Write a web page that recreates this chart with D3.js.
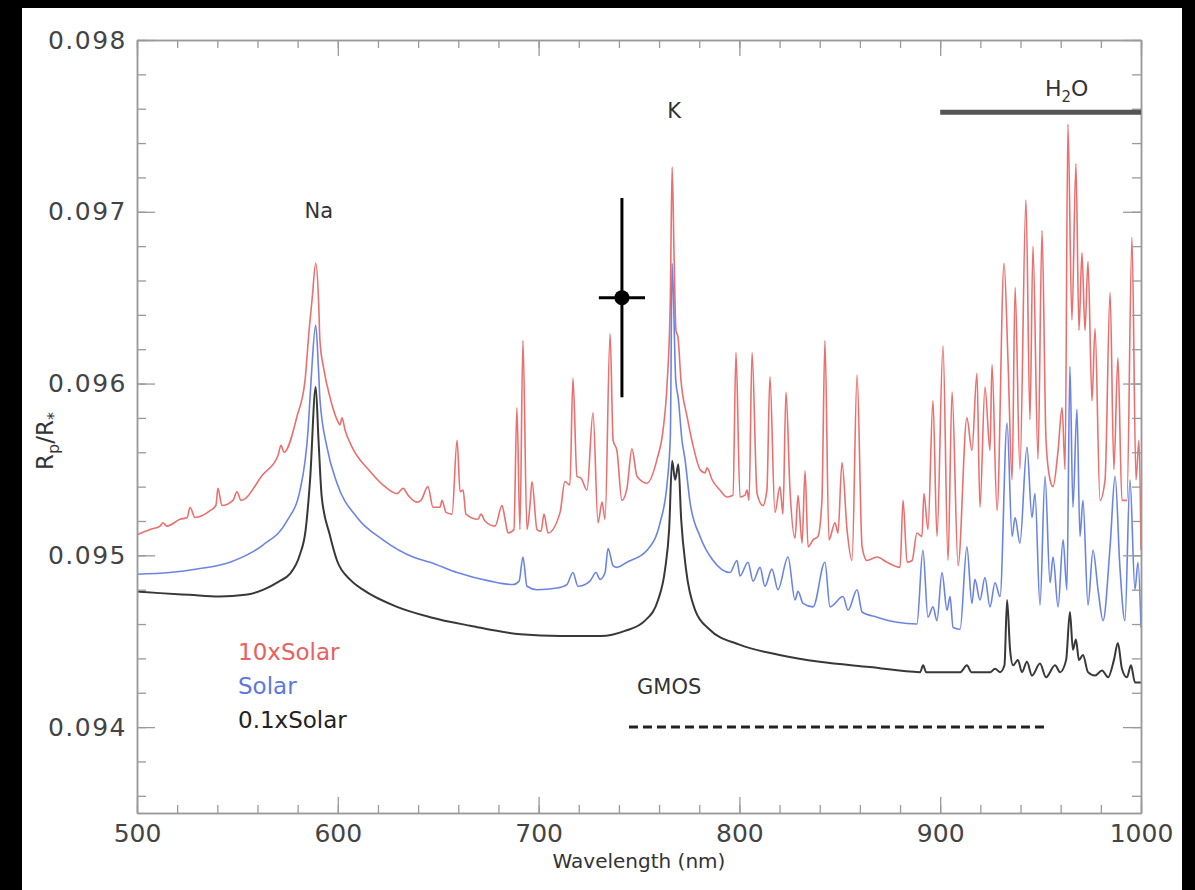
<!DOCTYPE html>
<html>
<head>
<meta charset="utf-8">
<script src="https://cdn.jsdelivr.net/npm/d3@7"></script>
<style>
  html, body { margin: 0; padding: 0; background: #000; }
  svg { display: block; }
  text { font-family: "DejaVu Sans", "Noto Sans", sans-serif; }
</style>
</head>
<body>
<svg id="chart" width="1195" height="890"></svg>
<script>
// Transmission spectra (wavelength in nm, Rp/R*) for three metallicities
const tenxSolar = [
  [500,0.09512],[506.5,0.09515],[511.5,0.09517],[512.9,0.09519],[514.9,0.09517],[521.4,0.09521],
  [525,0.09522],[526.4,0.09528],[528.9,0.09522],[536.4,0.09526],[539.3,0.09529],[540.3,0.09539],
  [542.3,0.09529],[547.8,0.09532],[549.8,0.09537],[551.8,0.09532],[562.7,0.09547],[570.2,0.09558],
  [571.7,0.09564],[573.2,0.09560],[579.7,0.09581],[583.7,0.09602],[585.7,0.09631],[587.2,0.09649],
  [589,0.09670],[590.4,0.09649],[591.1,0.09625],[593.1,0.09608],[596.1,0.09592],[599.6,0.09579],
  [601.1,0.09576],[602.1,0.09580],[603.6,0.09573],[607.1,0.09563],[616,0.09549],[623.5,0.09540],
  [629.5,0.09536],[632.5,0.09539],[635,0.09535],[639.4,0.09531],[641.4,0.09532],[644.9,0.09540],
  [647.4,0.09528],[650.9,0.09528],[651.9,0.09532],[653.9,0.09525],[656.9,0.09524],[659.4,0.09567],
  [660.9,0.09537],[662.4,0.09538],[663.8,0.09524],[669.8,0.09521],[671.3,0.09524],[673.3,0.09520],
  [678.3,0.09517],[681.8,0.09529],[683.3,0.09521],[684.8,0.09513],[687.7,0.09515],[689.2,0.09586],
  [690.7,0.09515],[692.2,0.09625],[694.2,0.09515],[695.7,0.09529],[696.7,0.09543],[699.2,0.09515],
  [701.2,0.09514],[702.7,0.09524],[704.7,0.09513],[710.7,0.09525],[713.1,0.09543],[715.6,0.09541],
  [717.1,0.09603],[719.1,0.09546],[721.1,0.09545],[724.1,0.09538],[727.1,0.09583],[729.6,0.09519],
  [731.6,0.09531],[733.1,0.09521],[735.6,0.09629],[737.1,0.09567],[739,0.09561],[741.5,0.09532],
  [744,0.09539],[746.5,0.09562],[749,0.09546],[754,0.09542],[759,0.09556],[762,0.09573],
  [764,0.09600],[765.6,0.09649],[766.5,0.09726],[767.5,0.09672],[768.4,0.09631],[769.4,0.09627],
  [770.9,0.09602],[773.9,0.09581],[776.9,0.09564],[780.4,0.09550],[782.9,0.09548],[783.9,0.09551],
  [786.4,0.09544],[790.3,0.09538],[793.8,0.09534],[796.8,0.09535],[798.3,0.09618],[800.3,0.09534],
  [802.8,0.09535],[803.8,0.09538],[804.8,0.09532],[806.3,0.09618],[808.8,0.09536],[811.7,0.09529],
  [813.7,0.09538],[815.2,0.09604],[817.7,0.09525],[820.2,0.09540],[821.7,0.09524],[823.2,0.09595],
  [825.2,0.09538],[827.7,0.09510],[829.2,0.09535],[831.2,0.09507],[832.7,0.09549],[834.2,0.09505],
  [836.7,0.09509],[839.1,0.09511],[841.1,0.09532],[842.6,0.09625],[844.6,0.09509],[847.6,0.09519],
  [849.1,0.09513],[851.1,0.09554],[853.6,0.09515],[856.1,0.09497],[858.6,0.09605],[861.1,0.09505],
  [863.5,0.09497],[868.5,0.09499],[873.5,0.09496],[880,0.09493],[881.5,0.09532],[883.5,0.09496],
  [886,0.09497],[888.4,0.09513],[890.9,0.09511],[891.9,0.09536],[893.9,0.09515],[896.4,0.09590],
  [898.4,0.09511],[901.4,0.09622],[903.9,0.09497],[905.9,0.09595],[908.9,0.09494],[913.3,0.09580],
  [915.8,0.09561],[918.3,0.09606],[919.8,0.09528],[922.3,0.09598],[924.8,0.09561],[925.8,0.09611],
  [928.3,0.09526],[931.8,0.09670],[933.8,0.09612],[935.8,0.09544],[937.3,0.09656],[939.7,0.09550],
  [942.7,0.09707],[944.7,0.09579],[946.2,0.09680],[948.7,0.09556],[950.7,0.09689],[952.7,0.09567],
  [954.7,0.09544],[956.2,0.09540],[958.7,0.09561],[960.7,0.09586],[962.2,0.09550],[963.6,0.09751],
  [965.6,0.09637],[967.6,0.09728],[969.1,0.09631],[970.6,0.09676],[972.1,0.09631],[973.6,0.09671],
  [975.6,0.09590],[977.1,0.09632],[979.6,0.09532],[982.1,0.09544],[984.6,0.09653],[986.5,0.09550],
  [988.5,0.09615],[990.5,0.09532],[993,0.09532],[995.5,0.09685],[997.5,0.09544],[999,0.09567],
  [1000,0.09503]
];

const solar = [
  [500,0.09489],[516.4,0.09490],[529.9,0.09492],[546.3,0.09496],[562.7,0.09506],[574.7,0.09520],
  [581.2,0.09538],[585.2,0.09573],[586.7,0.09602],[589,0.09634],[590.4,0.09608],[591.1,0.09591],
  [594.6,0.09563],[599.6,0.09542],[609.6,0.09522],[622.5,0.09509],[637.5,0.09499],[645.9,0.09496],
  [659.4,0.09490],[675.8,0.09485],[687.3,0.09483],[690.3,0.09485],[692.2,0.09499],[694.2,0.09482],
  [699.2,0.09480],[709.2,0.09481],[714.1,0.09483],[717.1,0.09490],[719.6,0.09482],[725.6,0.09485],
  [728.6,0.09490],[730.6,0.09486],[733.1,0.09490],[734.6,0.09504],[737.1,0.09494],[739,0.09493],
  [744,0.09496],[754,0.09503],[760.5,0.09519],[764,0.09542],[765.6,0.09569],[766.5,0.09670],
  [768.3,0.09602],[769.6,0.09591],[771.4,0.09567],[772.9,0.09556],[775.4,0.09531],[780.4,0.09511],
  [786.9,0.09497],[795.3,0.09490],[798.8,0.09497],[800.3,0.09488],[804.3,0.09496],[806.8,0.09485],
  [810.3,0.09493],[812.7,0.09482],[816.2,0.09492],[819.2,0.09480],[824.2,0.09499],[827.7,0.09474],
  [829.2,0.09479],[831.7,0.09472],[836.7,0.09470],[842.6,0.09496],[845.1,0.09470],[851.6,0.09476],
  [854.1,0.09468],[858.6,0.09480],[861.1,0.09467],[868.5,0.09464],[878.5,0.09461],[888.4,0.09460],
  [891.4,0.09503],[893.9,0.09464],[896.4,0.09470],[898.4,0.09462],[900.9,0.09490],[903.4,0.09468],
  [904.9,0.09476],[906.4,0.09458],[909.9,0.09457],[913.3,0.09505],[915.8,0.09472],[917.3,0.09486],
  [919.8,0.09474],[922.3,0.09487],[924.8,0.09470],[927.3,0.09484],[929.8,0.09476],[933.3,0.09577],
  [935.8,0.09511],[937.3,0.09522],[939.7,0.09507],[943.2,0.09563],[945.7,0.09522],[947.2,0.09536],
  [949.7,0.09471],[952.2,0.09546],[954.7,0.09484],[956.2,0.09499],[958.7,0.09470],[961.2,0.09509],
  [963.1,0.09480],[964.6,0.09610],[966.1,0.09528],[968.1,0.09585],[969.6,0.09511],[971.1,0.09532],
  [973.6,0.09471],[976.1,0.09503],[978.6,0.09480],[981.1,0.09462],[984.6,0.09505],[987.1,0.09546],
  [989.5,0.09493],[992,0.09462],[994.5,0.09544],[997,0.09480],[998.5,0.09496],[1000,0.09458]
];

const tenthSolar = [
  [500,0.09479],[511.5,0.09478],[526,0.09477],[541,0.09476],[554,0.09477],[563,0.09480],
  [571,0.09485],[576,0.09489],[581,0.09500],[584,0.09515],[586.2,0.09544],[589,0.09598],
  [590.4,0.09567],[592,0.09534],[596,0.09512],[599.6,0.09497],[606,0.09486],[612.5,0.09480],
  [629.5,0.09470],[646,0.09464],[666,0.09459],[691,0.09454],[711,0.09453],[731,0.09453],
  [743,0.09456],[753,0.09462],[759.5,0.09474],[763,0.09492],[765,0.09515],[766.5,0.09555],
  [768,0.09544],[769.6,0.09553],[771,0.09521],[773.4,0.09492],[778,0.09468],[785,0.09457],
  [800,0.09448],[820,0.09442],[840,0.09438],[865,0.09435],[890,0.09432],[891.5,0.09436],
  [893,0.09432],[910,0.09432],[913.3,0.09436],[915.5,0.09432],[925,0.09432],[927.3,0.09434],
  [929.8,0.09432],[932,0.09436],[933.3,0.09474],[934.8,0.09445],[936.3,0.09436],[938.7,0.09439],
  [940.7,0.09432],[943.2,0.09438],[945.7,0.09430],[949.7,0.09437],[952.7,0.09429],[957.2,0.09436],
  [959.7,0.09432],[962.7,0.09439],[964.6,0.09467],[966.1,0.09445],[967.6,0.09451],[969.1,0.09439],
  [971.1,0.09442],[973.6,0.09432],[977.1,0.09430],[980.6,0.09433],[983.6,0.09429],[986.5,0.09439],
  [988.5,0.09449],[990.5,0.09434],[993,0.09429],[995,0.09436],[997,0.09426],[1000,0.09426]
];

// Measured point with error bars: [wavelength, Rp/R*], [wavelength half-width, Rp/R* error]
const measurement = [741.5, 0.0965];
const measurementErr = [11.5, 0.00058];

// Bandpass / feature ranges in nm
const gmosRange = [745, 953];
const h2oRange = [900, 1000];

// Axis ticks
const xTicks = [500, 600, 700, 800, 900, 1000];
const xMinorTicks = d3.range(500, 1001, 20);
const yTicks = [0.094, 0.095, 0.096, 0.097, 0.098];
const yMinorTicks = d3.range(936, 981, 2).map(d => d / 10000);

const legendEntries = [
  { label: "10xSolar", color: "#e8605f" },
  { label: "Solar", color: "#5b77e0" },
  { label: "0.1xSolar", color: "#222222" }
];

const svg = d3.select("#chart");

// white page panel
svg.append("rect").attr("x", 22).attr("y", 8).attr("width", 1160).attr("height", 890)
  .attr("fill", "#ffffff");

const plot = { left: 137, right: 1141, top: 40, bottom: 813 };
const x = d3.scaleLinear().domain([500, 1000]).range([plot.left, plot.right]);
const y = d3.scaleLinear().domain([0.0935, 0.098]).range([plot.bottom, plot.top]);

svg.append("clipPath").attr("id", "plotClip").append("rect")
  .attr("x", plot.left).attr("y", plot.top)
  .attr("width", plot.right - plot.left).attr("height", plot.bottom - plot.top);

// spectra
const line = d3.line().x(d => x(d[0])).y(d => y(d[1])).curve(d3.curveMonotoneX);
const series = [
  { data: tenxSolar, color: legendEntries[0].color, width: 1.6 },
  { data: solar, color: legendEntries[1].color, width: 1.6 },
  { data: tenthSolar, color: legendEntries[2].color, width: 2 }
];
const lines = svg.append("g").attr("clip-path", "url(#plotClip)");
series.forEach(s => {
  lines.append("path").datum(s.data)
    .attr("d", line)
    .attr("fill", "none")
    .attr("stroke", s.color)
    .attr("stroke-width", s.width)
    .attr("stroke-opacity", 0.9)
    .attr("stroke-linejoin", "round");
});

// axes
const axisColor = "#9a9a9a";
function styleAxis(g) {
  g.selectAll(".domain").attr("stroke", axisColor).attr("stroke-width", 1.5);
  g.selectAll(".tick line").attr("stroke", axisColor).attr("stroke-width", 1.3);
  g.selectAll(".tick text").attr("fill", "#444").attr("font-size", 25)
    .attr("font-family", "DejaVu Sans, sans-serif");
}

// bottom
svg.append("g").attr("transform", `translate(0,${plot.bottom})`)
  .call(d3.axisBottom(x).tickValues(xMinorTicks).tickSize(-8).tickSizeOuter(0).tickFormat(""))
  .call(styleAxis);
svg.append("g").attr("transform", `translate(0,${plot.bottom})`)
  .call(d3.axisBottom(x).tickValues(xTicks).tickSize(-16).tickSizeOuter(0).tickPadding(11)
    .tickFormat(d3.format("d")))
  .call(styleAxis);
// top
svg.append("g").attr("transform", `translate(0,${plot.top})`)
  .call(d3.axisTop(x).tickValues(xMinorTicks).tickSize(-8).tickSizeOuter(0).tickFormat(""))
  .call(styleAxis);
svg.append("g").attr("transform", `translate(0,${plot.top})`)
  .call(d3.axisTop(x).tickValues(xTicks).tickSize(-16).tickSizeOuter(0).tickFormat(""))
  .call(styleAxis);
// left
svg.append("g").attr("transform", `translate(${plot.left},0)`)
  .call(d3.axisLeft(y).tickValues(yMinorTicks).tickSize(-9).tickSizeOuter(0).tickFormat(""))
  .call(styleAxis);
svg.append("g").attr("transform", `translate(${plot.left},0)`)
  .call(d3.axisLeft(y).tickValues(yTicks).tickSize(-18).tickSizeOuter(0).tickPadding(10)
    .tickFormat(d3.format(".3f")))
  .call(styleAxis)
  .call(g => g.selectAll(".tick text").attr("letter-spacing", 1.5));
// right
svg.append("g").attr("transform", `translate(${plot.right},0)`)
  .call(d3.axisRight(y).tickValues(yMinorTicks).tickSize(-9).tickSizeOuter(0).tickFormat(""))
  .call(styleAxis);
svg.append("g").attr("transform", `translate(${plot.right},0)`)
  .call(d3.axisRight(y).tickValues(yTicks).tickSize(-18).tickSizeOuter(0).tickFormat(""))
  .call(styleAxis);

// axis titles
svg.append("text").attr("x", 639).attr("y", 868).attr("text-anchor", "middle")
  .attr("font-size", 20).attr("fill", "#333").text("Wavelength (nm)");

const yTitle = svg.append("text")
  .attr("transform", "translate(53,441) rotate(-90)")
  .attr("text-anchor", "middle").attr("font-size", 23).attr("fill", "#333");
yTitle.append("tspan").text("R");
yTitle.append("tspan").attr("dy", 6).attr("font-size", 16).text("p");
yTitle.append("tspan").attr("dy", -6).text("/R");
yTitle.append("tspan").attr("dy", 6).attr("font-size", 16).text("*");

// feature labels
const labelColor = "#333";
svg.append("text").attr("x", x(590.5)).attr("y", 218).attr("text-anchor", "middle")
  .attr("font-size", 21).attr("fill", labelColor).text("Na");
svg.append("text").attr("x", x(767.5)).attr("y", 118).attr("text-anchor", "middle")
  .attr("font-size", 21).attr("fill", labelColor).text("K");

// H2O band marker
svg.append("line")
  .attr("x1", x(h2oRange[0])).attr("x2", x(h2oRange[1]))
  .attr("y1", y(0.09758)).attr("y2", y(0.09758))
  .attr("stroke", "#555").attr("stroke-width", 5);
const h2o = svg.append("text").attr("x", x(963)).attr("y", 96).attr("text-anchor", "middle")
  .attr("font-size", 22).attr("fill", labelColor);
h2o.append("tspan").text("H");
h2o.append("tspan").attr("dy", 6).attr("font-size", 15).text("2");
h2o.append("tspan").attr("dy", -6).text("O");

// GMOS coverage
svg.append("line")
  .attr("x1", x(gmosRange[0])).attr("x2", x(gmosRange[1]))
  .attr("y1", y(0.094)).attr("y2", y(0.094))
  .attr("stroke", "#222").attr("stroke-width", 3).attr("stroke-dasharray", "9,5");
svg.append("text").attr("x", x(765)).attr("y", 694).attr("text-anchor", "middle")
  .attr("font-size", 21).attr("fill", labelColor).text("GMOS");

// measured point
const mp = svg.append("g").attr("stroke", "#000").attr("stroke-width", 3);
mp.append("line")
  .attr("x1", x(measurement[0])).attr("x2", x(measurement[0]))
  .attr("y1", y(measurement[1] + measurementErr[1])).attr("y2", y(measurement[1] - measurementErr[1]));
mp.append("line")
  .attr("x1", x(measurement[0] - measurementErr[0])).attr("x2", x(measurement[0] + measurementErr[0]))
  .attr("y1", y(measurement[1])).attr("y2", y(measurement[1]));
svg.append("circle").attr("cx", x(measurement[0])).attr("cy", y(measurement[1])).attr("r", 7.5)
  .attr("fill", "#000");

// legend
legendEntries.forEach((e, i) => {
  svg.append("text").attr("x", 238).attr("y", 660 + i * 34)
    .attr("font-size", 23).attr("fill", e.color).text(e.label);
});
</script>
</body>
</html>
